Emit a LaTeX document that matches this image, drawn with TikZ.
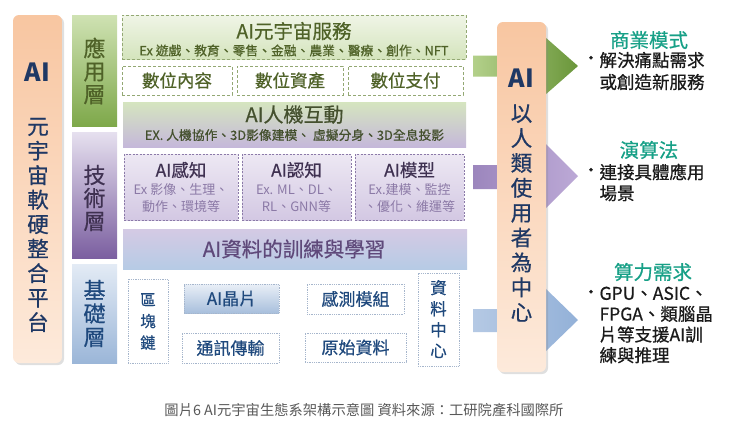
\documentclass[tikz,border=0pt]{standalone}
\usepackage{fontspec}
\setmainfont{Noto Sans CJK TC}
\newfontfamily\medf{Noto Sans CJK TC}[FakeBold=0.6]
\usetikzlibrary{shadows}
\definecolor{navy}{HTML}{1F3864}
\definecolor{olive}{HTML}{4F6228}
\definecolor{dpurple}{HTML}{3F3151}
\definecolor{mpurple}{HTML}{5F497A}
\definecolor{dblue}{HTML}{1F497D}
\definecolor{tealc}{HTML}{17A087}
\definecolor{gborder}{HTML}{93A873}
\definecolor{pborder}{HTML}{8B7AA8}
\definecolor{bborder}{HTML}{A6B6CC}
\definecolor{psub}{HTML}{8B79A6}
\definecolor{capgray}{HTML}{595959}
\definecolor{peachtop}{HTML}{F8C6A1}
\definecolor{peachbot}{HTML}{FDEADB}
\definecolor{appT}{HTML}{CFE2B3}
\definecolor{appB}{HTML}{7EA84A}
\definecolor{tecT}{HTML}{E6E0EF}
\definecolor{tecB}{HTML}{7B5FA0}
\definecolor{basT}{HTML}{E3EBF5}
\definecolor{basB}{HTML}{9BB6D8}
\definecolor{srvT}{HTML}{F0F5E7}
\definecolor{srvB}{HTML}{D4E4BC}
\definecolor{hciT}{HTML}{D5E5BF}
\definecolor{hciB}{HTML}{C5B8DA}
\definecolor{perT}{HTML}{EDE8F3}
\definecolor{perB}{HTML}{D3C8E3}
\definecolor{trnT}{HTML}{D4CAE4}
\definecolor{trnM}{HTML}{E9E7F3}
\definecolor{trnB}{HTML}{B6CBE5}
\definecolor{chipT}{HTML}{E9EFF7}
\definecolor{chipB}{HTML}{A8BFDC}
\definecolor{garL}{HTML}{B3D08A}
\definecolor{garR}{HTML}{6A963A}
\definecolor{parL}{HTML}{9C86BD}
\definecolor{parR}{HTML}{BCA9D6}
\definecolor{barL}{HTML}{B5C9E4}
\definecolor{barR}{HTML}{93B1D8}
\definecolor{hcisub}{HTML}{44502E}
\definecolor{rtxt}{HTML}{1A1A1A}
\tikzset{
  fs/.style={font=\medf\fontsize{#1}{#1}\selectfont},
  fsr/.style={font=\normalfont\fontsize{#1}{#1}\selectfont},
  vfs/.style 2 args={font=\medf\fontsize{#1}{#2}\selectfont, align=center},
  vfsr/.style 2 args={font=\normalfont\fontsize{#1}{#2}\selectfont, align=center},
  peachbox/.style={draw=none, rounded corners=6pt, top color=peachtop, bottom color=peachbot,
    drop shadow={opacity=0.25, shadow xshift=2pt, shadow yshift=-2pt}},
  layerbar/.style={draw=none, minimum width=45pt, inner sep=0pt},
  gdash/.style={draw=gborder, line width=0.8pt, dash pattern=on 3pt off 2pt, inner sep=0pt},
  pdash/.style={draw=pborder, line width=0.8pt, dash pattern=on 2pt off 1.5pt, inner sep=0pt},
  bdot/.style={draw=bborder, line width=0.8pt, densely dotted, inner sep=0pt},
  bigai/.style={text=navy, font=\normalfont\fontsize{25}{25}\selectfont\bfseries},
}
\begin{document}
\begin{tikzpicture}[x=1pt,y=-1pt]
\useasboundingbox (0,0) rectangle (729,440);
\fill[white] (0,0) rectangle (729,440);

% ===== block arrows (behind center box) =====
\path[left color=garL, right color=garR]
  (473,55.5) -- (545,55.5) -- (545,37) -- (578,66) -- (545,95) -- (545,76.5) -- (473,76.5) -- cycle;
\path[left color=parL, right color=parR]
  (473,165) -- (545,165) -- (545,143) -- (578,176) -- (545,209) -- (545,189) -- (473,189) -- cycle;
\path[left color=barL, right color=barR]
  (473,309) -- (545,309) -- (545,288) -- (578,320) -- (545,352) -- (545,332) -- (473,332) -- cycle;

% ===== left platform =====
\node[peachbox, minimum width=49pt, minimum height=348pt] (plat) at (37.5,189) {};
\node[bigai] (platai) at (37.5,72) {AI};
\node[vfs={21.5}{24.5}, text=navy] (plattxt) at (38,225) {元\\宇\\宙\\軟\\硬\\整\\合\\平\\台};

% ===== layer bars =====
\node[layerbar, minimum height=111pt, top color=appT, bottom color=appB] (app) at (94.5,70.5) {};
\node[vfs={22}{23}, text=olive] (applbl) at (94.5,71) {應\\用\\層};
\node[layerbar, minimum height=126pt, top color=tecT, bottom color=tecB] (tec) at (94.5,195) {};
\node[vfs={22}{23}, text=dpurple] (teclbl) at (94.5,198) {技\\術\\層};
\node[layerbar, minimum height=99pt, top color=basT, bottom color=basB] (bas) at (94.5,313.5) {};
\node[vfs={22}{23.5}, text=dblue] (baslbl) at (94.5,313.5) {基\\礎\\層};

% ===== application layer =====
\node[gdash, minimum width=344pt, minimum height=44pt, top color=srvT, bottom color=srvB] (srv) at (294,37) {};
\node[fs=19.5, text=olive] (srvt) at (294,31) {AI元宇宙服務};
\node[fs=12.8, text=olive] (srvs) at (294,50.5) {Ex 遊戲、教育、零售、金融、農業、醫療、創作、NFT};

\node[gdash, fill=white, minimum width=110pt, minimum height=29pt, fs=17.5, text=olive] (dc) at (177,80.5) {數位內容};
\node[gdash, fill=white, minimum width=106pt, minimum height=29pt, fs=17.5, text=olive] (da) at (290,80.5) {數位資產};
\node[gdash, fill=white, minimum width=115pt, minimum height=29pt, fs=17.5, text=olive] (dp) at (405.5,80.5) {數位支付};

% ===== technology layer =====
\node[draw=none, inner sep=0pt, minimum width=343pt, minimum height=45pt, top color=hciT, bottom color=hciB] (hci) at (294.5,124.5) {};
\node[fs=20, text=hcisub] (hcit) at (294.5,114.5) {AI人機互動};
\node[fs=12.8, text=hcisub] (hcis) at (294.5,135) {EX. 人機協作、3D影像建模、 虛擬分身、3D全息投影};

\node[pdash, minimum width=114pt, minimum height=66pt, top color=perT, bottom color=perB] (per) at (181,187) {};
\node[fs=17.5, text=dpurple] (pert) at (181,170) {AI感知};
\node[vfsr={13}{17}, text=psub] (pers) at (181,198.5) {Ex 影像、生理、\\動作、環境等};

\node[pdash, minimum width=109pt, minimum height=66pt, top color=perT, bottom color=perB] (cog) at (296.5,187) {};
\node[fs=17.5, text=dpurple] (cogt) at (296.5,170) {AI認知};
\node[vfsr={13}{17}, text=psub] (cogs) at (296.5,198.5) {Ex. ML、DL、\\RL、GNN等};

\node[pdash, minimum width=109pt, minimum height=66pt, top color=perT, bottom color=perB] (mdl) at (409.5,187) {};
\node[fs=17.5, text=dpurple] (mdlt) at (409.5,170) {AI模型};
\node[vfsr={13}{17}, text=psub] (mdls) at (409.5,198.5) {Ex.建模、監控\\、優化、維運等};

\node[draw=none, inner sep=0pt, minimum width=344pt, minimum height=40pt, top color=trnT, middle color=trnM, bottom color=trnB] (trn) at (295,249) {};
\node[fs=20.5, text=mpurple] (trnt) at (294,249) {AI資料的訓練與學習};

% ===== base layer =====
\node[bdot, fill=white, minimum width=40pt, minimum height=84pt] (bc) at (148,321) {};
\node[vfs={15.5}{21.5}, text=dblue] (bct) at (148,321.5) {區\\塊\\鏈};
\node[bdot, minimum width=95pt, minimum height=29pt, top color=chipT, bottom color=chipB, fs=17, text=dblue] (chip) at (231.5,298.5) {AI晶片};
\node[bdot, fill=white, minimum width=97pt, minimum height=30pt, fs=17, text=dblue] (comm) at (230.5,348) {通訊傳輸};
\node[bdot, fill=white, minimum width=97pt, minimum height=30pt, fs=17, text=dblue] (sens) at (355.5,299) {感測模組};
\node[bdot, fill=white, minimum width=101pt, minimum height=29pt, fs=17, text=dblue] (raw) at (355.5,347.5) {原始資料};
\node[bdot, fill=white, minimum width=41pt, minimum height=93pt] (dctr) at (438.5,319.5) {};
\node[vfs={16.5}{21}, text=dblue] (dctrt) at (438.5,319) {資\\料\\中\\心};

% ===== center box =====
\node[peachbox, minimum width=49pt, minimum height=350pt] (hub) at (521.5,197) {};
\node[bigai] (hubai) at (521.5,78) {AI};
\node[vfs={21.5}{24.9}, text=navy] (hubtxt) at (521.5,213) {以\\人\\類\\使\\用\\者\\為\\中\\心};

% ===== right side texts =====
\node[fs=19.5, text=tealc] (h1) at (649,40) {商業模式};
\node[fs=17, text=rtxt] (b1) at (591,60) {•};
\node[vfs={17.5}{22}, align=left, anchor=west, text=rtxt] (t1) at (596,71) {解決痛點需求\\或創造新服務};

\node[fs=19.5, text=tealc] (h2) at (649,150) {演算法};
\node[fs=17, text=rtxt] (b2) at (591,172) {•};
\node[vfs={17.5}{21}, align=left, anchor=west, text=rtxt] (t2) at (596,182.5) {連接具體應用\\場景};

\node[fs=19.5, text=tealc] (h3) at (653,272) {算力需求};
\node[fs=17, text=rtxt] (b3) at (591,294) {•};
\node[vfs={17.5}{20.7}, align=left, anchor=west, text=rtxt] (t3) at (596,325) {GPU、ASIC、\\FPGA、類腦晶\\片等支援AI訓\\練與推理};

% ===== caption =====
\node[fsr=14.3, text=capgray] (cap) at (364,410) {圖片6 AI元宇宙生態系架構示意圖 資料來源：工研院產科國際所};
\end{tikzpicture}
\end{document}
